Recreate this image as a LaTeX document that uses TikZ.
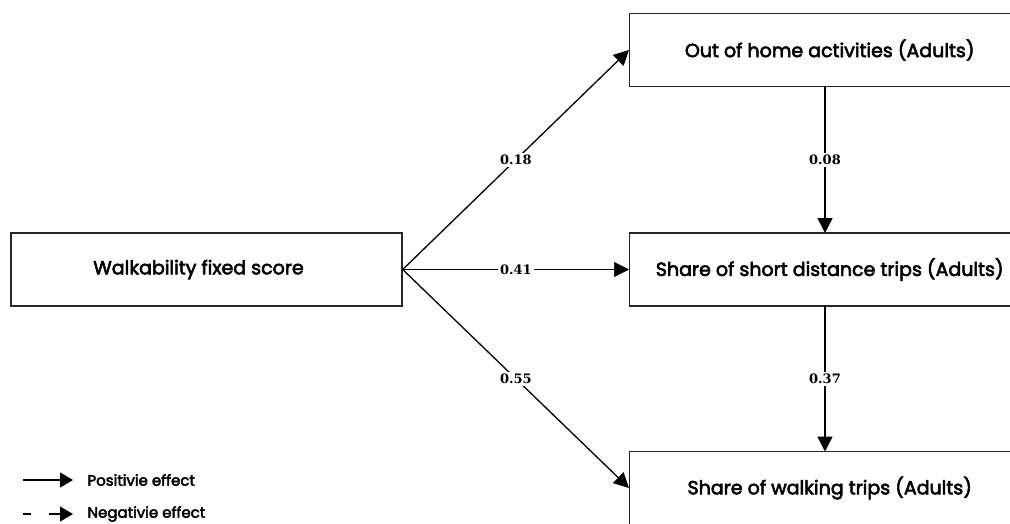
\documentclass[tikz,border=0pt]{standalone}
\usepackage{fontspec}
\setmainfont{Poppins}
\newfontfamily\boxfont{Poppins}[FakeBold=3]
\newfontfamily\labfont{DejaVu Serif}
\usetikzlibrary{arrows.meta}
\begin{document}
\begin{tikzpicture}[x=1pt,y=-1pt,
  box/.style={draw=black!85,line width=1.4pt,minimum height=73pt,inner sep=0pt,font=\boxfont\fontsize{19}{24}\selectfont},
  conn/.style={line width=1.3pt,-{Triangle[length=15pt,width=15pt]}},
  thinconn/.style={line width=0.7pt,-{Triangle[length=15pt,width=15pt]}},
  lab/.style={fill=white,inner sep=2pt,font=\labfont\bfseries\fontsize{13}{14}\selectfont},
  legtext/.style={anchor=west,font=\boxfont\fontsize{15}{18}\selectfont}]
\useasboundingbox (0,0) rectangle (1010,523);
\clip (0,0) rectangle (1010,523);
\node[box,minimum width=391pt] (walk) at (206.5,269.5) {\hspace*{-16pt}Walkability fixed score};
\node[box,minimum width=400pt,anchor=west] (home) at (629,50) {Out of home activities (Adults)};
\node[box,minimum width=400pt,anchor=west] (short) at (629,269.5) {Share of short distance trips (Adults)};
\node[box,minimum width=400pt,anchor=west] (walking) at (629,488) {Share of walking trips (Adults)};
\coordinate (hb) at (825,87);
\coordinate (st) at (825,233);
\coordinate (sb) at (825,306);
\coordinate (wt) at (825,451.5);
\draw[conn] (walk.east) -- node[lab,pos=0.5]{0.18} (home.west);
\draw[thinconn] (walk.east) -- node[lab,pos=0.5]{0.41} (short.west);
\draw[conn] (walk.east) -- node[lab,pos=0.5]{0.55} (walking.west);
\draw[conn] (hb) -- node[lab]{0.08} (st);
\draw[conn] (sb) -- node[lab]{0.37} (wt);
% legend
\coordinate (p1) at (23,480);
\coordinate (p2) at (73,480);
\coordinate (n1) at (23,514);
\coordinate (n2) at (73,514);
\draw[line width=1.3pt,-{Triangle[length=13pt,width=15pt]}] (p1) -- (p2);
\draw[line width=1.3pt,dash pattern=on 8pt off 18pt on 30pt,-{Triangle[length=13pt,width=15pt]}] (n1) -- (n2);
\node[legtext] (pos) at (84,480) {Positivie effect};
\node[legtext] (neg) at (84,514) {Negativie effect};
\end{tikzpicture}
\end{document}
